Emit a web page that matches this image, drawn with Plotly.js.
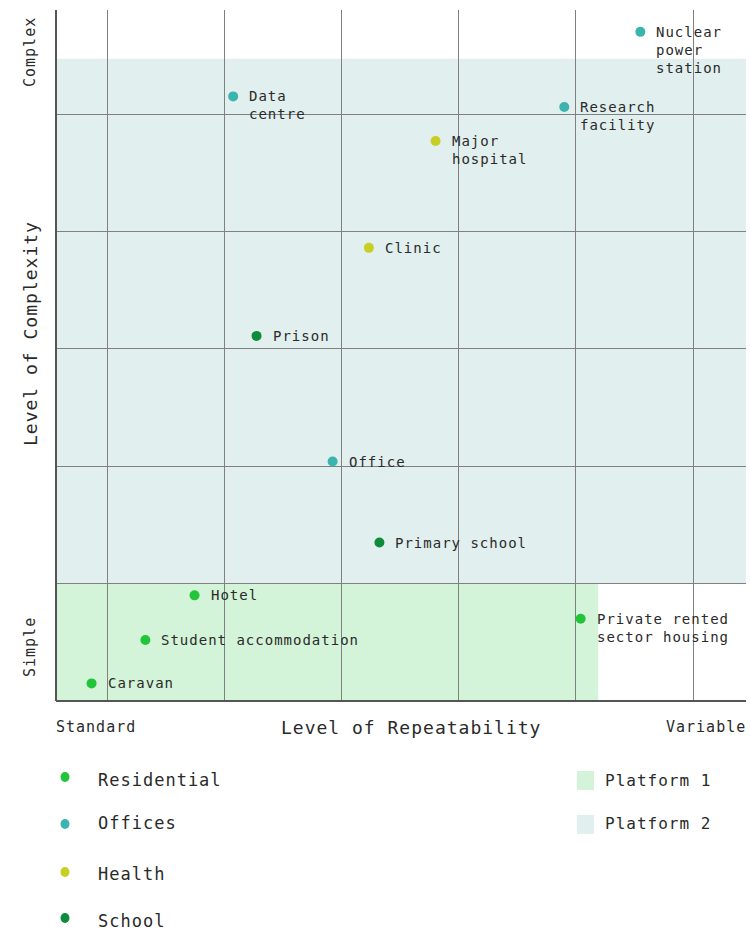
<!DOCTYPE html>
<html>
<head>
<meta charset="utf-8">
<script src="https://cdn.plot.ly/plotly-3.0.1.min.js"></script>
<style>
html,body{margin:0;padding:0;background:#fff;}
.annotation-text{letter-spacing:1px;}
</style>
</head>
<body>
<div id="chart" style="width:751px;height:931px;"></div>
<script>
// ---- data ----
const categories = ['Residential', 'Offices', 'Health', 'School'];
const categoryColors = ['#22c43a', '#3bb4b0', '#c7cf22', '#0f8c3b'];

const projectNames = ['Nuclear<br>power<br>station', 'Research<br>facility', 'Data<br>centre', 'Major<br>hospital',
  'Clinic', 'Prison', 'Office', 'Primary school', 'Hotel', 'Student accommodation', 'Caravan',
  'Private rented<br>sector housing'];
const projectSector = ['Offices', 'Offices', 'Offices', 'Health', 'Health', 'School', 'Offices', 'School',
  'Residential', 'Residential', 'Residential', 'Residential'];
const repeatability = [5.55, 4.90, 2.07, 3.80, 3.23, 2.27, 2.92, 3.32, 1.74, 1.32, 0.86, 5.04];
const complexity = [5.70, 5.06, 5.15, 4.77, 3.86, 3.11, 2.04, 1.35, 0.90, 0.52, 0.15, 0.70];

const platforms = ['Platform 1', 'Platform 2'];
const platformColors = ['#d3f4d8', '#e1efee'];
const platformX0 = [0.556, 0.556];
const platformX1 = [5.19, 6.453];
const platformY0 = [0, 1];
const platformY1 = [1, 5.47];

const xTickVals = [1, 2, 3, 4, 5, 6];
const yTickVals = [1, 2, 3, 4, 5];
const xRange = [0.556, 6.453];
const yRange = [0, 5.886];

// ---- layout helpers ----
const FONT = 'DejaVu Sans Mono, Liberation Mono, monospace';
const W = 751, H = 931, L = 56, R = 5, T = 10, B = 230;
const pw = W - L - R, ph = H - T - B;
const px = x => (x - L) / pw;
const py = y => (H - B - y) / ph;

const traces = categories.map((c, ci) => {
  const idx = projectSector.map((s, i) => s === c ? i : -1).filter(i => i >= 0);
  return {
    type: 'scatter', mode: 'markers', name: c,
    x: idx.map(i => repeatability[i]),
    y: idx.map(i => complexity[i]),
    marker: {color: categoryColors[ci], size: 10},
    hoverinfo: 'skip', showlegend: false, cliponaxis: false
  };
});

const shapes = [];
platforms.forEach((p, i) => {
  shapes.push({type: 'rect', xref: 'x', yref: 'y', x0: platformX0[i], x1: platformX1[i],
    y0: platformY0[i], y1: platformY1[i], fillcolor: platformColors[i], line: {width: 0}, layer: 'below'});
});
// axis lines
shapes.push({type: 'line', xref: 'paper', yref: 'paper', x0: 0, x1: 0, y0: 0, y1: 1, line: {color: '#555555', width: 2}});
shapes.push({type: 'line', xref: 'paper', yref: 'paper', x0: 0, x1: 1, y0: 0, y1: 0, line: {color: '#555555', width: 2}});

const annotations = [];
projectNames.forEach((n, i) => {
  annotations.push({x: repeatability[i], y: complexity[i], xref: 'x', yref: 'y', text: n,
    showarrow: false, xanchor: 'left', yanchor: 'top', align: 'left', xshift: 14, yshift: 10,
    font: {family: FONT, size: 14, color: '#2a2a2a'}});
});

const axisFont = {family: FONT, size: 15, color: '#2a2a2a'};
annotations.push({xref: 'paper', yref: 'paper', x: px(54), y: py(727), text: 'Standard', showarrow: false,
  xanchor: 'left', yanchor: 'middle', font: axisFont});
annotations.push({xref: 'paper', yref: 'paper', x: px(748), y: py(727), text: 'Variable', showarrow: false,
  xanchor: 'right', yanchor: 'middle', font: axisFont});
annotations.push({xref: 'paper', yref: 'paper', x: px(30), y: py(52), text: 'Complex', showarrow: false,
  xanchor: 'center', yanchor: 'middle', textangle: -90, font: axisFont});
annotations.push({xref: 'paper', yref: 'paper', x: px(30), y: py(647), text: 'Simple', showarrow: false,
  xanchor: 'center', yanchor: 'middle', textangle: -90, font: axisFont});
annotations.push({xref: 'paper', yref: 'paper', x: px(411), y: py(727), text: 'Level of Repeatability', showarrow: false,
  xanchor: 'center', yanchor: 'middle', font: {family: FONT, size: 18, color: '#2a2a2a'}});
annotations.push({xref: 'paper', yref: 'paper', x: px(30), y: py(334), text: 'Level of Complexity', showarrow: false,
  xanchor: 'center', yanchor: 'middle', textangle: -90, font: {family: FONT, size: 18, color: '#2a2a2a'}});

// custom legend
const legendY = [780, 823, 874, 921];
const legendDotY = [777, 824, 872, 918];
categories.forEach((c, i) => {
  const cy = legendDotY[i];
  shapes.push({type: 'circle', xref: 'paper', yref: 'paper', x0: px(60.5), x1: px(69.5),
    y0: py(cy + 5), y1: py(cy - 5), fillcolor: categoryColors[i], line: {width: 0}});
  annotations.push({xref: 'paper', yref: 'paper', x: px(96), y: py(legendY[i]), text: c, showarrow: false,
    xanchor: 'left', yanchor: 'middle', font: {family: FONT, size: 17, color: '#2a2a2a'}});
});
const platLegendY = [780, 824];
platforms.forEach((p, i) => {
  shapes.push({type: 'rect', xref: 'paper', yref: 'paper', x0: px(577), x1: px(594),
    y0: py(platLegendY[i] + 10), y1: py(platLegendY[i] - 9), fillcolor: platformColors[i], line: {width: 0}});
  annotations.push({xref: 'paper', yref: 'paper', x: px(603), y: py(platLegendY[i]), text: p, showarrow: false,
    xanchor: 'left', yanchor: 'middle', font: {family: FONT, size: 16, color: '#2a2a2a'}});
});

const layout = {
  width: W, height: H,
  margin: {l: L, r: R, t: T, b: B, pad: 0},
  paper_bgcolor: '#ffffff', plot_bgcolor: '#ffffff',
  showlegend: false,
  xaxis: {range: xRange, tickvals: xTickVals, showticklabels: false, showgrid: true,
    gridcolor: '#808080', gridwidth: 1, zeroline: false, showline: false, ticks: '', fixedrange: true},
  yaxis: {range: yRange, tickvals: yTickVals, showticklabels: false, showgrid: true,
    gridcolor: '#808080', gridwidth: 1, zeroline: false, showline: false, ticks: '', fixedrange: true},
  shapes: shapes,
  annotations: annotations,
  font: {family: FONT}
};

Plotly.newPlot('chart', traces, layout, {displayModeBar: false, staticPlot: true});
</script>
</body>
</html>
